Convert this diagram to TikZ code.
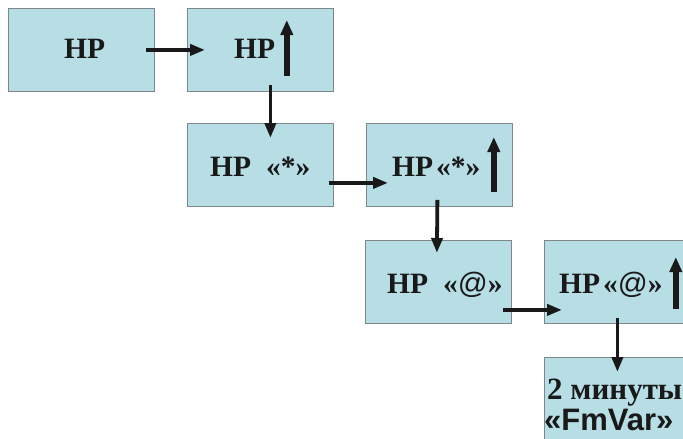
\documentclass[tikz,border=0pt]{standalone}
\usepackage{fontspec}
\setmainfont{Liberation Serif}
\newfontfamily\sansb{Liberation Sans}
\usetikzlibrary{arrows.meta}
\definecolor{boxfill}{RGB}{183,222,229}
\definecolor{boxline}{RGB}{125,135,138}
\definecolor{ink}{RGB}{25,25,25}
\begin{document}
\begin{tikzpicture}[x=1pt,y=-1pt,
  box/.style={draw=boxline,line width=0.8pt,fill=boxfill,minimum width=146pt,minimum height=83pt,inner sep=0pt,anchor=north west},
  lbl/.style={anchor=base west,inner sep=0pt,text=ink,font=\fontsize{29.5}{31}\selectfont\bfseries},
  conn/.style={draw=ink,line width=3.8pt,-{Triangle[length=15pt,width=11pt]}},
  uparr/.style={draw=ink,line width=5.5pt,-{Triangle[length=15pt,width=12pt]}}]
\clip (0,0) rectangle (683,439);
\node[box] (b1) at (8,8) {};
\node[box] (b2) at (187,8) {};
\node[box] (b3) at (187,123) {};
\node[box] (b4) at (366,123) {};
\node[box] (b5) at (365,240) {};
\node[box] (b6) at (544,240) {};
\node[box] (b7) at (544,357) {};
\node[lbl] (t1) at (64,58) {HP};
\node[lbl] (t2) at (234,58) {HP};
\node[lbl] (t3) at (210,176) {HP\hspace{15pt}«*»};
\node[lbl] (t4) at (392,176) {HP\hspace{3pt}«*»};
\node[lbl] (t5) at (387,293) {HP\hspace{15pt}«{\sansb\mdseries @}»};
\node[lbl] (t6) at (559,293) {HP\hspace{3pt}«{\sansb\mdseries @}»};
\node[lbl,font=\fontsize{31}{33}\selectfont\bfseries] (t7a) at (547,399) {2 минуты};
\node[lbl,font=\fontsize{31}{33}\sansb\bfseries] (t7b) at (544,430) {«FmVar»};
\draw[conn] ([xshift=-9pt]b1.east) -- ([xshift=18pt]b2.west);
\draw[conn] ([xshift=10pt,yshift=7pt]b2.south) -- ([xshift=10pt,yshift=-15pt]b3.north);
\draw[conn] ([xshift=-5pt,yshift=-18pt]b3.east) -- ([xshift=22pt,yshift=-18pt]b4.west);
\draw[conn] ([xshift=-2pt,yshift=7pt]b4.south) -- ([xshift=-1.5pt,yshift=-13pt]b5.north);
\draw[conn] ([xshift=-9pt,yshift=-28pt]b5.east) -- ([xshift=18pt,yshift=-28pt]b6.west);
\draw[conn] ([yshift=6pt]b6.south) -- ([yshift=-15pt]b7.north);
\draw[uparr] ([xshift=-47pt,yshift=-68pt]b2.north east) -- ([xshift=-47pt,yshift=-12pt]b2.north east);
\draw[uparr] ([xshift=-19pt,yshift=-69pt]b4.north east) -- ([xshift=-19pt,yshift=-14pt]b4.north east);
\draw[uparr] ([xshift=-15pt,yshift=-69pt]b6.north east) -- ([xshift=-15pt,yshift=-17pt]b6.north east);
\end{tikzpicture}
\end{document}
